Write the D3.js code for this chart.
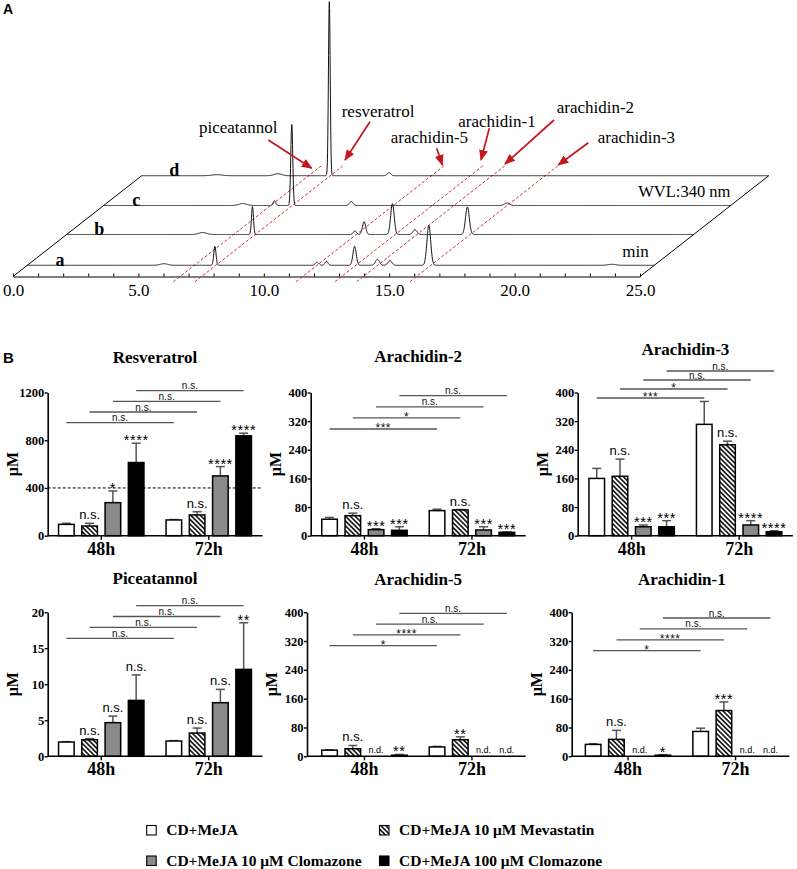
<!DOCTYPE html>
<html><head><meta charset="utf-8">
<script src="https://cdn.jsdelivr.net/npm/d3@7"></script>
<style>body{margin:0;background:#fff}svg{display:block}</style>
</head><body>
<svg id="c" width="797" height="869"></svg>
<script>
// ================= DATA =================
// Panel A: HPLC chromatograms (WVL 340 nm). Peaks: [retention time (min), height (mAU), sigma (min)]
const traceNames = ["a", "b", "c", "d"];
const peaksTraceA = [[5.45,8,0.15],[7.48,95,0.045],[11.56,15,0.07],[11.93,20,0.06],[13.05,95,0.065],[13.96,30,0.08],[14.46,23,0.08],[16.01,200,0.075],[23.3,5,0.15]];
const peaksTraceB = [[5.42,10,0.15],[7.41,140,0.04],[11.49,18,0.06],[11.86,64,0.065],[12.99,155,0.07],[13.89,24,0.08],[15.98,138,0.075]];
const peaksTraceC = [[5.55,10,0.15],[6.81,24,0.05],[7.50,405,0.04],[9.87,20,0.07],[16.08,13,0.1]];
const peaksTraceD = [[3.0,5,0.2],[5.43,10,0.15],[7.48,870,0.035],[9.86,15,0.07]];
const compoundNames = ["piceatannol", "resveratrol", "arachidin-5", "arachidin-1", "arachidin-2", "arachidin-3"];
const compoundTimes = [6.66, 7.52, 11.55, 13.1, 13.97, 16.09];
const timeTicks = [0, 5, 10, 15, 20, 25];

// Panel B: concentrations (µM), [48h, 72h] x 4 treatments
const groups = ["48h", "72h"];
const series = ["CD+MeJA", "CD+MeJA 10 \u03bcM Mevastatin", "CD+MeJA 10 \u03bcM Clomazone", "CD+MeJA 100 \u03bcM Clomazone"];

const resveratrolMean = [[95, 81, 277, 613], [132, 174, 501, 837]];
const resveratrolSD   = [[9, 23, 98, 162], [3, 27, 78, 22]];
const resveratrolSig  = [["", "n.s.", "*", "****"], ["", "n.s.", "****", "****"]];
const resveratrolPairs = ["n.s.", "n.s.", "n.s.", "n.s."];
const resveratrolTicks = [0, 400, 800, 1200];

const arachidin2Mean = [[46, 56, 17, 15], [70, 72, 16, 9.5]];
const arachidin2SD   = [[5, 7, 2.5, 10], [4, 1, 9, 1]];
const arachidin2Sig  = [["", "n.s.", "***", "***"], ["", "n.s.", "***", "***"]];
const arachidin2Pairs = ["***", "*", "n.s.", "n.s."];

const arachidin3Mean = [[160, 166, 25, 25], [311, 254, 30, 11]];
const arachidin3SD   = [[28, 48, 5, 17], [64, 10, 12, 3]];
const arachidin3Sig  = [["", "n.s.", "***", "***"], ["", "n.s.", "****", "****"]];
const arachidin3Pairs = ["***", "*", "n.s.", "n.s."];

const piceatannolMean = [[1.98, 2.3, 4.67, 7.76], [2.12, 3.23, 7.44, 12.06]];
const piceatannolSD   = [[0.05, 0.15, 0.91, 3.54], [0.05, 0.69, 1.85, 6.47]];
const piceatannolSig  = [["", "n.s.", "n.s.", "n.s."], ["", "n.s.", "n.s.", "**"]];
const piceatannolPairs = ["n.s.", "n.s.", "n.s.", "n.s."];
const piceatannolTicks = [0, 5, 10, 15, 20];

const arachidin5Mean = [[17, 21, null, 3], [26, 46, null, null]];
const arachidin5SD   = [[1, 9, null, 2], [1.5, 8, null, null]];
const arachidin5Sig  = [["", "n.s.", "n.d.", "**"], ["", "**", "n.d.", "n.d."]];
const arachidin5Pairs = ["*", "****", "n.s.", "n.s."];

const arachidin1Mean = [[33, 47, null, 3], [69, 127, null, null]];
const arachidin1SD   = [[2, 25, null, 1.5], [9, 24, null, null]];
const arachidin1Sig  = [["", "n.s.", "n.d.", "*"], ["", "***", "n.d.", "n.d."]];
const arachidin1Pairs = ["*", "****", "n.s.", "n.s."];

const arachidinTicks = [0, 80, 160, 240, 320, 400];

// ================= DRAWING =================
const SERIF = "'Liberation Serif','Times New Roman',serif";
const SANS = "'Liberation Sans',Arial,sans-serif";
const svg = d3.select("#c");
const defs = svg.append("defs");
const hp = defs.append("pattern").attr("id", "hatch").attr("patternUnits", "userSpaceOnUse")
  .attr("width", 3.4).attr("height", 3.4).attr("patternTransform", "rotate(-45)");
hp.append("rect").attr("width", 3.4).attr("height", 3.4).attr("fill", "#fff");
hp.append("line").attr("x1", 1.7).attr("x2", 1.7).attr("y1", 0).attr("y2", 3.4).attr("stroke", "#000").attr("stroke-width", 1.5);
defs.append("marker").attr("id", "arr").attr("markerUnits", "userSpaceOnUse")
  .attr("markerWidth", 11).attr("markerHeight", 9).attr("refX", 10).attr("refY", 4.5).attr("orient", "auto")
  .append("path").attr("d", "M0,0L11,4.5L0,9Z").attr("fill", "#c4161c");

// ---------- Panel A ----------
const gA = svg.append("g");
const AXY = 276.5, SLANT = 1.277;
const xA = d3.scaleLinear().domain([0, 25]).range([13, 640]);
const iA = d3.scaleLinear().domain([0, 1000]).range([0, 200]);
const lifts = [11.2, 42, 71, 100.8];
const proj = (t, lift) => [xA(t) + lift * SLANT, AXY - lift];

gA.append("text").text("A").attr("x", 3).attr("y", 13.5).attr("font-family", SANS).attr("font-weight", "bold").attr("font-size", 14);

// frame slants
[0, 25].forEach(t => {
  gA.append("path").attr("d", d3.line()([proj(t, 0), proj(t, lifts[3])])).attr("stroke", "#000").attr("stroke-width", 1).attr("fill", "none");
});
// axis
const axA = gA.append("g").attr("transform", `translate(0,${AXY})`)
  .call(d3.axisBottom(xA).tickValues(d3.range(0, 26)).tickSize(-3).tickSizeOuter(0).tickPadding(7)
    .tickFormat(d => timeTicks.includes(d) ? d3.format(".1f")(d) : ""));
axA.attr("font-family", SERIF).attr("font-size", 17);
axA.select(".domain").attr("stroke", "#000").attr("stroke-width", 1.2);
axA.selectAll("text").style("font-family", SERIF).attr("font-size", 17).attr("fill", "#000");

// dashed compound lines
compoundTimes.forEach(t => {
  gA.append("path").attr("d", d3.line()([proj(t, -5.2), proj(t, 110.5)]))
    .attr("stroke", "#c8323a").attr("stroke-width", 1).attr("stroke-dasharray", "3,2").attr("fill", "none");
});

// traces
const tGrid = d3.range(0, 25.0001, 0.01);
[peaksTraceA, peaksTraceB, peaksTraceC, peaksTraceD].forEach((peaks, k) => {
  const pts = tGrid.map(t => {
    const I = d3.sum(peaks, p => p[1] * Math.exp(-0.5 * Math.pow((t - p[0]) / p[2], 2)));
    const [px, py] = proj(t, lifts[k]);
    return [px, py - iA(I)];
  });
  gA.append("path").attr("d", d3.line()(pts)).attr("stroke", "#111").attr("stroke-width", 1).attr("fill", "none");
  const [lx, ly] = proj(1.3, lifts[k]);
  gA.append("text").text(traceNames[k]).attr("x", lx).attr("y", ly + 0.5).attr("text-anchor", "middle")
    .attr("font-family", SERIF).attr("font-weight", "bold").attr("font-size", 18);
});

// labels & arrows (annotation layout)
const annot = [
  {x: 199, y: 133, tail: [268.3, 140], tip: [311.7, 168.3]},
  {x: 341.7, y: 116.7, tail: [370, 121.7], tip: [345, 160]},
  {x: 390.7, y: 143.3, tail: [436.7, 148.3], tip: [442.3, 165]},
  {x: 458.3, y: 126.7, tail: [489.3, 128.3], tip: [481, 160]},
  {x: 556.7, y: 113.3, tail: [554, 120], tip: [505, 164]},
  {x: 597.7, y: 143.3, tail: [588.3, 142.7], tip: [558.3, 165]}
];
compoundNames.forEach((n, i) => {
  const a = annot[i];
  gA.append("text").text(n).attr("x", a.x).attr("y", a.y).attr("font-family", SERIF).attr("font-size", 17);
  gA.append("line").attr("x1", a.tail[0]).attr("y1", a.tail[1]).attr("x2", a.tip[0]).attr("y2", a.tip[1])
    .attr("stroke", "#c4161c").attr("stroke-width", 1.7).attr("marker-end", "url(#arr)");
});
gA.append("text").text("WVL:340 nm").attr("x", 638.3).attr("y", 196.7).attr("font-family", SERIF).attr("font-size", 16.5);
gA.append("text").text("min").attr("x", 622.3).attr("y", 257.3).attr("font-family", SERIF).attr("font-size", 17);

// ---------- Panel B ----------
svg.append("text").text("B").attr("x", 3).attr("y", 363).attr("font-family", SANS).attr("font-weight", "bold").attr("font-size", 15);

const W = 215;
const fills = ["#fff", "url(#hatch)", "#8a8a8a", "#000"];
const panels = [
  {name: "Resveratrol", max: 1200, ticks: resveratrolTicks, mean: resveratrolMean, sd: resveratrolSD, sig: resveratrolSig, pairs: resveratrolPairs, ref: 400,
   L: 47.5, ax: 47.7, top: 392.5, bottom: 535.7, ty: 363, bb: 30.2, bs: 10.7},
  {name: "Arachidin-2", max: 400, ticks: arachidinTicks, mean: arachidin2Mean, sd: arachidin2SD, sig: arachidin2Sig, pairs: arachidin2Pairs,
   L: 310.7, ax: 310.7, top: 392.5, bottom: 535.7, ty: 362, bb: 36.5, bs: 11.1},
  {name: "Arachidin-3", max: 400, ticks: arachidinTicks, mean: arachidin3Mean, sd: arachidin3SD, sig: arachidin3Sig, pairs: arachidin3Pairs,
   L: 577.9, ax: 577.7, top: 392.5, bottom: 535.7, ty: 355, bb: 5.5, bs: 9.0},
  {name: "Piceatannol", max: 20, ticks: piceatannolTicks, mean: piceatannolMean, sd: piceatannolSD, sig: piceatannolSig, pairs: piceatannolPairs,
   L: 47.5, ax: 47.7, top: 612.2, bottom: 756.3, ty: 584, bb: 26.1, bs: 10.9},
  {name: "Arachidin-5", max: 400, ticks: arachidinTicks, mean: arachidin5Mean, sd: arachidin5SD, sig: arachidin5Sig, pairs: arachidin5Pairs,
   L: 310.7, ax: 307, top: 612.2, bottom: 756.3, ty: 584.5, bb: 33.5, bs: 10.8},
  {name: "Arachidin-1", max: 400, ticks: arachidinTicks, mean: arachidin1Mean, sd: arachidin1SD, sig: arachidin1Sig, pairs: arachidin1Pairs,
   L: 574.3, ax: 571.7, top: 612.2, bottom: 756.3, ty: 584.5, bb: 38.5, bs: 10.9}
];

panels.forEach(p => {
  const g = svg.append("g");
  const x = d3.scaleBand().domain(groups).range([p.L, p.L + W]).padding(0);
  const xs = d3.scaleBand().domain(d3.range(series.length)).range([0, x.bandwidth()]).paddingInner(0.33).paddingOuter(0.475);
  const y = d3.scaleLinear().domain([0, p.max]).range([p.bottom, p.top]);
  const cx = (gi, si) => x(groups[gi]) + xs(si) + xs.bandwidth() / 2;

  g.append("text").text(p.name).attr("x", p.L + W / 2).attr("y", p.ty).attr("text-anchor", "middle")
    .attr("font-family", SERIF).attr("font-weight", "bold").attr("font-size", 17);

  // y axis
  const ya = g.append("g").attr("transform", `translate(${p.ax},0)`)
    .call(d3.axisLeft(y).tickValues(p.ticks).tickFormat(d3.format("d")).tickSize(3).tickSizeOuter(0).tickPadding(0.5));
  ya.attr("font-family", SERIF);
  ya.select(".domain").attr("stroke", "#000").attr("stroke-width", 1.6);
  ya.selectAll(".tick line").attr("stroke", "#000").attr("stroke-width", 1.4);
  ya.selectAll("text").style("font-family", SERIF).attr("font-weight", "bold").attr("font-size", 12.5).attr("fill", "#000");
  g.append("text").text("\u03bcM").attr("transform", `translate(${p.ax - 30},${(p.top + p.bottom) / 2}) rotate(-90)`)
    .attr("text-anchor", "middle").attr("font-family", SERIF).attr("font-weight", "bold").attr("font-size", 16);

  // reference line
  if (p.ref != null) {
    g.append("line").attr("x1", p.ax).attr("x2", p.L + W).attr("y1", y(p.ref)).attr("y2", y(p.ref))
      .attr("stroke", "#000").attr("stroke-width", 1).attr("stroke-dasharray", "3,2");
  }

  // bars & error bars
  groups.forEach((gName, gi) => {
    series.forEach((s, si) => {
      const v = p.mean[gi][si];
      const c = cx(gi, si);
      if (v != null) {
        const sd = p.sd[gi][si];
        if (sd) {
          g.append("line").attr("x1", c).attr("x2", c).attr("y1", y(v)).attr("y2", y(v + sd)).attr("stroke", "#555").attr("stroke-width", 1.5);
          g.append("line").attr("x1", c - 4.5).attr("x2", c + 4.5).attr("y1", y(v + sd)).attr("y2", y(v + sd)).attr("stroke", "#555").attr("stroke-width", 1.5);
        }
        g.append("rect").attr("x", x(gName) + xs(si)).attr("width", xs.bandwidth())
          .attr("y", y(v)).attr("height", Math.max(0.5, y(0) - y(v)))
          .attr("fill", fills[si]).attr("stroke", "#000").attr("stroke-width", 1.5);
      }
      const lab = p.sig[gi][si];
      if (lab) {
        const topV = v == null ? 0 : v + (p.sd[gi][si] || 0);
        const t = g.append("text").text(lab).attr("x", c).attr("text-anchor", "middle").attr("font-family", SANS).attr("fill", "#000");
        if (lab === "n.d.") t.attr("y", y(0) - 3.5).attr("font-size", 9);
        else if (lab[0] === "*") t.attr("y", y(topV) + 2).attr("font-size", 14.5).attr("letter-spacing", 0.6);
        else t.attr("y", y(topV) - 4).attr("font-size", 13);
      }
    });
  });

  // x axis
  g.append("line").attr("x1", p.ax).attr("x2", p.L + W).attr("y1", y(0)).attr("y2", y(0)).attr("stroke", "#000").attr("stroke-width", 1.6);
  groups.forEach(gName => {
    const c = x(gName) + x.bandwidth() / 2;
    g.append("line").attr("x1", c).attr("x2", c).attr("y1", y(0)).attr("y2", y(0) + 4).attr("stroke", "#000").attr("stroke-width", 1.4);
    g.append("text").text(gName).attr("x", c).attr("y", y(0) + 19).attr("text-anchor", "middle")
      .attr("font-family", SERIF).attr("font-weight", "bold").attr("font-size", 18);
  });

  // comparison brackets 48h vs 72h
  p.pairs.forEach((lab, i) => {
    const ly = p.top + p.bb - i * p.bs;
    const x1 = cx(0, i), x2 = cx(1, i);
    g.append("line").attr("x1", x1).attr("x2", x2).attr("y1", ly).attr("y2", ly).attr("stroke", "#555").attr("stroke-width", 1.3);
    const t = g.append("text").text(lab).attr("x", (x1 + x2) / 2).attr("text-anchor", "middle").attr("font-family", SANS).attr("fill", "#111");
    if (lab[0] === "*") t.attr("y", ly + 3).attr("font-size", 12).attr("letter-spacing", 0.5);
    else t.attr("y", ly - 1.5).attr("font-size", 10);
  });
});

// ---------- Legend ----------
const legPos = [[146.7, 835], [379.5, 835], [146.7, 865.5], [379.5, 865.5]];
series.forEach((s, i) => {
  const [lx, ly] = legPos[i];
  svg.append("rect").attr("x", lx).attr("y", ly - 9.5).attr("width", 9.5).attr("height", 9.5)
    .attr("fill", fills[i]).attr("stroke", "#000").attr("stroke-width", 1.1);
  svg.append("text").text(s).attr("x", lx + 19.5).attr("y", ly).attr("font-family", SERIF)
    .attr("font-weight", "bold").attr("font-size", 15.5);
});
</script>
</body></html>
